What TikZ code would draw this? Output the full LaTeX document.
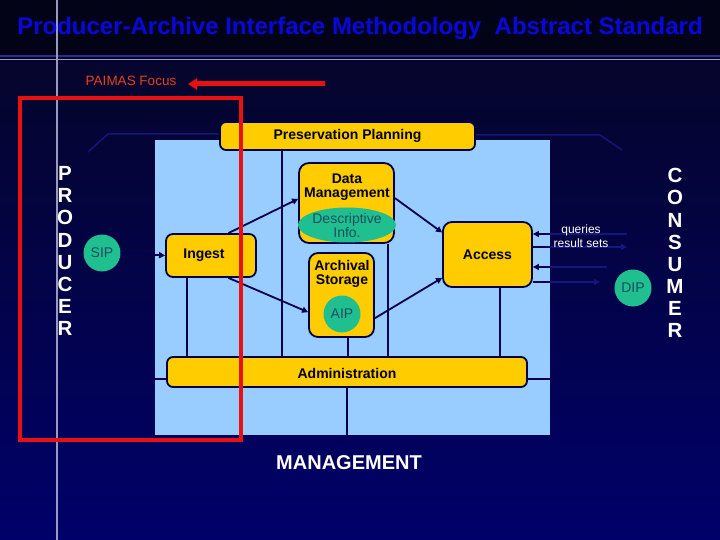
\documentclass[tikz,border=0pt]{standalone}
\usepackage{fontspec}
\setmainfont{Liberation Sans}
\usetikzlibrary{arrows.meta,calc,shapes.geometric}
\definecolor{yboxc}{HTML}{FFCC00}
\definecolor{panelc}{HTML}{99CCFF}
\definecolor{navyline}{HTML}{000050}
\definecolor{tealc}{HTML}{1FBF90}
\definecolor{tealtext}{HTML}{1A4E5E}
\definecolor{titleblue}{HTML}{0808DC}
\definecolor{paimred}{HTML}{E81010}
\definecolor{paimtext}{HTML}{E8401C}
\definecolor{faintc}{HTML}{15157F}
\definecolor{bgtop}{HTML}{030318}
\definecolor{bgmid}{HTML}{05052C}
\definecolor{bgbot}{HTML}{00006A}
\definecolor{rulec}{HTML}{9A9AC0}
\definecolor{rulebl}{HTML}{2E2E8A}
\begin{document}
\begin{tikzpicture}[x=1pt,y=-1pt,
  ybox/.style={draw=navyline, line width=1.8pt, fill=yboxc, rounded corners=6pt, inner sep=0pt},
  boxtext/.style={font=\fontsize{14}{14.5}\selectfont\bfseries, text=black, align=center, inner sep=0pt},
  tealblob/.style={fill=tealc, draw=none, text=tealtext, font=\fontsize{14}{14}\selectfont, align=center, inner sep=0pt},
  conn/.style={draw=navyline, line width=1.8pt},
  arr/.style={conn, -{Triangle[length=6pt,width=6pt]}},
  faintconn/.style={draw=faintc, line width=1.5pt},
  faintarr/.style={faintconn, -{Triangle[length=6pt,width=6pt]}},
  vletters/.style={text=white, font=\fontsize{20.5}{22.1}\selectfont\bfseries, align=center, inner sep=0pt}]
\useasboundingbox (0,0) rectangle (720,540);
% background
\fill[bgtop] (0,0) rectangle (720,58);
\shade[top color=bgmid, bottom color=bgbot] (0,58) rectangle (720,540);
\draw[rulebl, line width=2.5pt] (0,56) -- (720,56);
\draw[rulec, line width=1pt] (0,59.5) -- (720,59.5);
\draw[rulec, line width=1.5pt] (57,0) -- (57,540);
% title
\node[text=titleblue, font=\fontsize{24}{28}\selectfont\bfseries, inner sep=0pt] (title) at (360,28) {Producer-Archive Interface Methodology\ \ Abstract Standard};
% panel
\fill[panelc] (155,140) rectangle (550,435);
% nodes
\node[ybox, minimum width=255pt, minimum height=28pt] (pp) at (347.5,136) {};
\node[boxtext] at (pp.center) {Preservation Planning};
\node[ybox, rounded corners=10pt, minimum width=95pt, minimum height=80pt] (dm) at (346.5,203) {};
\node[boxtext] (dmt) at (347,187) {Data\\Management};
\node[ybox, rounded corners=9pt, minimum width=65pt, minimum height=84pt] (as) at (341.5,295) {};
\node[boxtext] (ast) at (342,274) {Archival\\Storage};
\node[ybox, rounded corners=9pt, minimum width=89pt, minimum height=65pt] (acc) at (487.5,254.5) {};
\node[boxtext] at (acc.center) {Access};
\node[ybox, rounded corners=7pt, minimum width=90pt, minimum height=43pt] (ing) at (211,255.5) {};
\node[boxtext] at (204,255.5) {Ingest};
\node[ybox, minimum width=360pt, minimum height=30pt] (adm) at (347,372) {};
\node[boxtext] at (347,373) {Administration};
\node[tealblob, ellipse, minimum width=98pt, minimum height=35pt] (desc) at (347,225) {Descriptive\\Info.};
\node[tealblob, circle, minimum size=37pt] (aip) at (342,314) {AIP};
\node[tealblob, circle, minimum size=37pt] (sip) at (102,253) {SIP};
\node[tealblob, circle, minimum size=37pt] (dip) at (633,288) {DIP};
% coordinates for vertical connectors
\coordinate (c1) at (187,0);
\coordinate (c2) at (282,0);
\coordinate (c3) at (388,0);
\coordinate (c4) at (348,0);
\coordinate (c5) at (500,0);
\coordinate (pl) at (155,379);
\coordinate (pr) at (550,379);
\coordinate (pb) at (347,435);
\draw[conn] (pp.south -| c2) -- (adm.north -| c2);
\draw[conn] (ing.south -| c1) -- (adm.north -| c1);
\draw[conn] (dm.south -| c3) -- (adm.north -| c3);
\draw[conn] (as.south -| c4) -- (adm.north -| c4);
\draw[conn] (acc.south -| c5) -- (adm.north -| c5);
\draw[conn] (pl) -- (adm.west |- pl);
\draw[conn] (adm.east |- pr) -- (pr);
\draw[conn] (adm.south -| pb) -- (pb);
% arrows inside
\draw[arr] ($(ing.north west)!0.69!(ing.north east)$) -- ($(dm.north west)!0.45!(dm.south west)$);
\draw[arr] ($(ing.south west)!0.69!(ing.south east)$) -- ($(as.north west)!0.70!(as.south west)$);
\draw[arr] ($(dm.north east)!0.44!(dm.south east)$) -- ($(acc.north west)!0.17!(acc.south west)$);
\draw[arr] ($(as.north east)!0.77!(as.south east)$) -- ($(acc.north west)!0.85!(acc.south west)$);
\draw[arr] (sip.east) -- (ing.west);
% faint lines from preservation planning
\coordinate (fl1) at (108,134);
\coordinate (fl2) at (88,152);
\coordinate (fr1) at (600,135);
\coordinate (fr2) at (622,150);
\draw[faintconn] (pp.west |- fl1) -- (fl1) -- (fl2);
\draw[faintconn] (pp.east |- fr1) -- (fr1) -- (fr2);
% consumer side arrows
\coordinate (q1) at (627,234);
\coordinate (q2) at (627,247);
\coordinate (q3) at (607,267);
\coordinate (q4) at (600,282);
\draw[faintconn] (q1) -- (550,234);
\draw[arr] (550,234) -- (acc.east |- q1);
\draw[conn] (acc.east |- q2) -- (550,247);
\draw[faintarr] (550,247) -- (q2);
\draw[faintconn] (q3) -- (550,267);
\draw[arr] (550,267) -- (acc.east |- q3);
\draw[conn] (acc.east |- q4) -- (550,282);
\draw[faintarr] (550,282) -- (q4);
\node[text=white, font=\fontsize{12}{14}\selectfont, align=center, inner sep=0pt] (qt) at (581,236) {queries\\result sets};
% side labels
\node[vletters] (prod) at (65,251) {P\\R\\O\\D\\U\\C\\E\\R};
\node[vletters] (cons) at (675,253) {C\\O\\N\\S\\U\\M\\E\\R};
\node[text=white, font=\fontsize{20}{24}\selectfont\bfseries, inner sep=0pt] (mgmt) at (349,463) {MANAGEMENT};
% PAIMAS focus
\node[text=paimtext, font=\fontsize{13.5}{16}\selectfont, inner sep=0pt] (pf) at (131,81) {PAIMAS Focus};
\coordinate (pa) at (325,84);
\draw[paimred, line width=5pt, -{Triangle[length=9pt,width=11pt]}] (pa) -- (188,84);
\draw[paimred, line width=4pt] (20,98) rectangle (241,440);
\end{tikzpicture}
\end{document}
